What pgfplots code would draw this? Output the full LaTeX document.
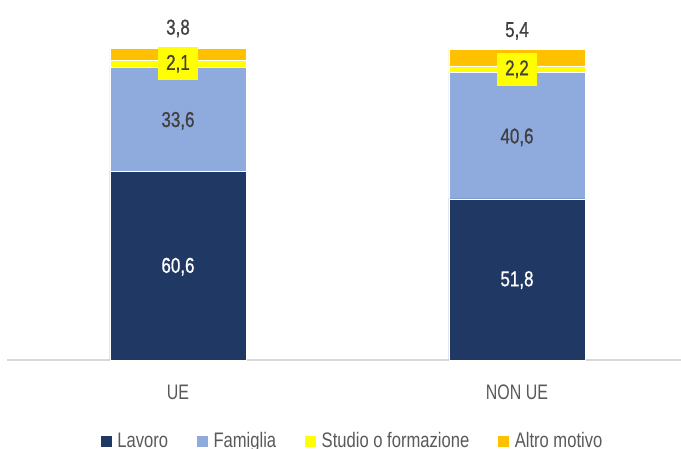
\documentclass[border=0pt]{standalone}
\usepackage{pgfplots}
\pgfplotsset{compat=1.18}
\usepackage{fontspec}
\setmainfont{Liberation Sans}[FakeStretch=0.79, FakeBold=0.8]
\newfontfamily\narrowfont{Liberation Sans}[FakeStretch=0.76]
\newfontfamily\legfont{Liberation Sans}[FakeStretch=0.79]
\definecolor{lavoro}{HTML}{203864}
\definecolor{famiglia}{HTML}{8FAADC}
\definecolor{studio}{HTML}{FFFF00}
\definecolor{altro}{HTML}{FFC000}
\definecolor{axisgray}{HTML}{D9D9D9}
\definecolor{tickgray}{HTML}{595959}
\definecolor{labgray}{HTML}{404040}
\newcommand{\datafont}{\fontsize{21.5}{25}\selectfont}
\begin{document}
\begin{tikzpicture}
\pgfplotsset{base/.style={scale only axis, width=674pt, height=311pt,
  xmin=-0.5044, xmax=1.4838, ymin=0, ymax=100, clip=false,
  at={(0,0)}, anchor=south west}}
\begin{axis}[base, ybar stacked, bar width=136pt,
  axis x line*=bottom, hide y axis,
  x axis line style={draw=axisgray, line width=1.5pt, -},
  xtick={0,1}, xticklabels={UE,NON UE}, major tick length=0pt,
  xticklabel style={font=\narrowfont\fontsize{21}{25}\selectfont, text=tickgray, anchor=center, yshift=-32pt},
  legend style={at={(0.512,-0.26)}, anchor=center, draw=none, fill=none,
    legend columns=-1, font=\legfont\fontsize{21}{25}\selectfont, text=tickgray,
    nodes={inner xsep=2pt, inner ysep=0pt},
    /tikz/every odd column/.append style={column sep=3pt},
    /tikz/every even column/.append style={column sep=26pt}},
  legend image code/.code={\fill[#1] (0pt,-6pt) rectangle (12pt,6pt);},
]
\addplot[fill=lavoro, draw=white, line width=0.5pt] coordinates {(0,60.6) (1,51.8)};
\addplot[fill=famiglia, draw=white, line width=0.5pt] coordinates {(0,33.6) (1,40.6)};
\addplot[fill=studio, draw=white, line width=0.5pt] coordinates {(0,2.1) (1,2.2)};
\addplot[fill=altro, draw=white, line width=0.5pt] coordinates {(0,3.8) (1,5.4)};
\legend{Lavoro, Famiglia, Studio o formazione, Altro motivo}
\end{axis}
\begin{axis}[base, hide axis, nodes near coords align={center}]
\addplot[draw=none, mark=none, nodes near coords, point meta=explicit symbolic,
  nodes near coords style={font=\datafont, text=white, anchor=center}]
  coordinates {(0,30.0)[60,6] (1,25.7)[51,8]};
\addplot[draw=none, mark=none, nodes near coords, point meta=explicit symbolic,
  nodes near coords style={font=\datafont, text=labgray, anchor=center}]
  coordinates {(0,76.9)[33,6] (1,71.6)[40,6]};
\addplot[draw=none, mark=none, nodes near coords, point meta=explicit symbolic,
  nodes near coords style={font=\datafont, text=labgray, fill=studio, inner xsep=8pt, inner ysep=7.8pt, anchor=center}]
  coordinates {(0,95.25)[2,1] (1,93.5)[2,2]};
\addplot[draw=none, mark=none, nodes near coords, point meta=explicit symbolic,
  nodes near coords style={font=\datafont, text=labgray, anchor=center}]
  coordinates {(0,106.6)[3,8] (1,105.8)[5,4]};
\end{axis}
\pgfresetboundingbox
\useasboundingbox (-7pt,-88pt) rectangle (674pt,360pt);
\end{tikzpicture}
\end{document}
